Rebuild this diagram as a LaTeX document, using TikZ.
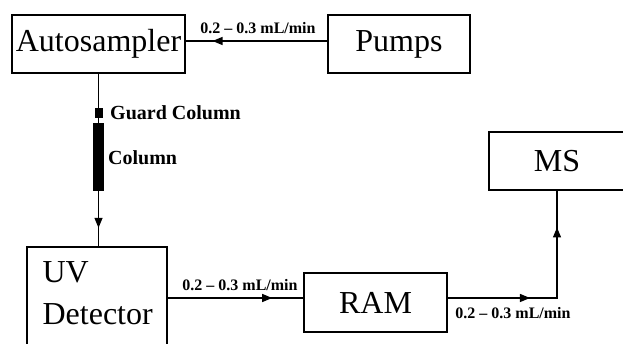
\documentclass[tikz,border=0pt]{standalone}
\usepackage{fontspec}
\setmainfont{Liberation Serif}
\usetikzlibrary{positioning,arrows.meta,calc,decorations.markings}
\tikzset{
  unit/.style   ={draw, line width=1.2pt, inner sep=0pt, minimum height=58pt,
                  font=\fontsize{32}{42}\selectfont},
  rate/.style   ={font=\bfseries\fontsize{16}{18}\selectfont, inner sep=0pt},
  colnote/.style={font=\bfseries\fontsize{20}{22}\selectfont, inner sep=0pt, anchor=west},
  colpart/.style={draw, fill=black, inner sep=0pt},
  flow/.style   ={line width=1.2pt},
  % filled head part way along a line, one per call
  midarrow/.style={postaction={decorate, decoration={markings,
                  mark=at position #1 with {\arrow{Triangle[length=10pt,width=8pt]}}}}},
}
\newcommand{\flowrate}{0.2 \textendash{} 0.3 mL/min}

\begin{document}
\begin{tikzpicture}[x=1pt,y=1pt]
\useasboundingbox (0,0) rectangle (623,344);
\node[unit, minimum width=173pt] (auto) at (98.5,300) {Autosampler};
\node[unit, minimum width=142pt] (pumps) at (399,300) {Pumps};
\node[unit, minimum width=136pt] (ms) at (557,183) {MS};
\node[unit, minimum width=143pt, minimum height=59pt] (ram) at (375.5,41.5) {RAM};
\node[unit, minimum width=140pt, minimum height=120pt,
      label={[anchor=north west, align=left, inner xsep=16pt, inner ysep=15pt,
              font=\fontsize{32}{42}\selectfont]north west:UV\\Detector}] (uv) at (97,37) {};
% columns on the line down to the detector
\node[colpart, minimum width=7pt, minimum height=9pt] (guard) at (98.5,231.5) {};
\node[colpart, minimum width=10pt, minimum height=67pt] (col) at (98.5,187.5) {};
\node[colnote] (gclab) at (110,231.5) {Guard Column};
\node[colnote] (clab) at (108,186) {Column};
\coordinate (rin) at ([yshift=4.5pt]ram.west);
\coordinate (rout) at ([yshift=4.5pt]ram.east);
\draw[flow, midarrow=0.81] ([yshift=3pt]pumps.west) -- ([yshift=3pt]auto.east);
\draw[flow] (auto.south) -- (guard.north);
\draw[flow] (guard.south) -- (col.north);
\draw[flow, midarrow=0.67] (col.south) -- (col.south |- uv.north);
\draw[flow, midarrow=0.77] (uv.east |- rin) -- (rin);
\draw[flow, midarrow=0.38, midarrow=0.83] (rout) -| (ms.south);
\node[rate] (rtop) at (258,316) {\flowrate};
\node[rate] (ruv) at (240,59) {\flowrate};
\node[rate] (rms) at (513,31) {\flowrate};
\end{tikzpicture}
\end{document}
